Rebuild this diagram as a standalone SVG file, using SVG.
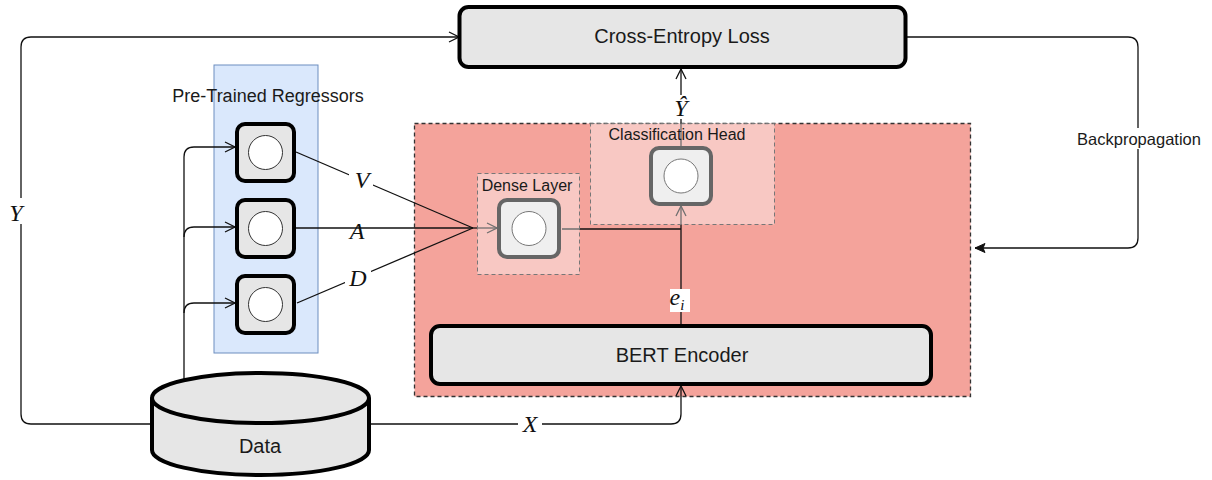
<svg xmlns="http://www.w3.org/2000/svg" width="1212" height="480" viewBox="0 0 1212 480">
<style>
.sans{font-family:"Liberation Sans",Arial,sans-serif;fill:#1a1a1a}
.math{font-family:"Liberation Serif","DejaVu Serif",serif;font-style:italic;fill:#111;font-size:24px}
.box{fill:#e6e6e6;stroke:#000;stroke-width:4}
.fbox{fill:#efefef;stroke:#666;stroke-width:4}
.ring{fill:#fff;stroke:#333;stroke-width:1}
.fring{fill:#fff;stroke:#777;stroke-width:1}
.edge{fill:none;stroke:#111;stroke-width:1.3}
.lbg{fill:#fff}
</style>
<defs>
<marker id="open" viewBox="0 0 12 12" refX="11" refY="6" markerWidth="12" markerHeight="12" markerUnits="userSpaceOnUse" orient="auto">
<path d="M1,1 L11,6 L1,11" fill="none" stroke="#111" stroke-width="1.3"/>
</marker>
<marker id="block" viewBox="0 0 12 12" refX="11" refY="6" markerWidth="12" markerHeight="12" markerUnits="userSpaceOnUse" orient="auto">
<path d="M1,1.5 L11,6 L1,10.5 L3,6 Z" fill="#111" stroke="#111" stroke-width="1"/>
</marker>
</defs>
<rect width="1212" height="480" fill="#fff"/>

<g id="regressors-group">
<rect x="214" y="65" width="104" height="288" fill="#dae8fc" stroke="#6c8ebf" stroke-width="1"/>
<text class="sans" x="268" y="102" font-size="18" text-anchor="middle">Pre-Trained Regressors</text>
</g>

<g id="model-group">
<rect x="414.5" y="123.5" width="556" height="273" fill="#f4a39b" stroke="#333" stroke-width="1.3" stroke-dasharray="4 3"/>
</g>

<g id="connectors">
<path class="edge" d="M152,424 H31 Q21,424 21,414 V47 Q21,37 31,37 H459" marker-end="url(#open)"/>
<path class="edge" d="M184,380 V157 Q184,147 194,147 H235" marker-end="url(#open)"/>
<path class="edge" d="M184,237 Q184,227 194,227 H235" marker-end="url(#open)"/>
<path class="edge" d="M184,313 Q184,303 194,303 H235" marker-end="url(#open)"/>
<path class="edge" d="M296,152 L473,228"/>
<path class="edge" d="M296,228 H473"/>
<path class="edge" d="M297,303 L473,228"/>
<path class="edge" d="M473,228 H497" marker-end="url(#open)"/>
<path class="edge" d="M562,229 H681"/>
<path class="edge" d="M681,325 V206" marker-end="url(#open)"/>
<path class="edge" d="M681,147 V69" marker-end="url(#open)"/>
<path class="edge" d="M369,424 H671 Q681,424 681,414 V386" marker-end="url(#open)"/>
<path class="edge" d="M906,37 H1128 Q1138,37 1138,47 V238 Q1138,248 1128,248 H975" marker-end="url(#block)"/>
<rect class="lbg" x="4" y="198" width="24" height="26"/>
<text class="math" x="16" y="221" text-anchor="middle">Y</text>
<rect class="lbg" x="349" y="167" width="24" height="22"/>
<text class="math" x="362" y="188" text-anchor="middle">V</text>
<text class="math" x="357" y="239" text-anchor="middle">A</text>
<rect class="lbg" x="345" y="265" width="26" height="22"/>
<text class="math" x="358" y="286" text-anchor="middle">D</text>
<rect class="lbg" x="518" y="413" width="24" height="22"/>
<text class="math" x="530" y="432" text-anchor="middle">X</text>
<rect class="lbg" x="670" y="95" width="22" height="24"/>
<text class="math" x="681" y="116" text-anchor="middle">Ŷ</text>
<rect class="lbg" x="670" y="289" width="20" height="23"/>
<text class="math" x="677" y="305" text-anchor="middle" font-size="23">e<tspan font-size="15" dy="5">i</tspan></text>
<rect class="lbg" x="1075" y="128" width="127" height="21"/>
<text class="sans" x="1139" y="145" font-size="16.5" text-anchor="middle">Backpropagation</text>
</g>

<g id="cross-entropy-loss">
<rect class="box" x="459.5" y="7" width="446" height="60" rx="9"/>
<text class="sans" x="682" y="43" font-size="20" text-anchor="middle">Cross-Entropy Loss</text>
</g>

<g id="regressor-v">
<rect class="box" x="237" y="124" width="57" height="57" rx="8"/>
<circle class="ring" cx="265.5" cy="152.5" r="17"/>
</g>
<g id="regressor-a">
<rect class="box" x="237" y="200" width="57" height="57" rx="8"/>
<circle class="ring" cx="265.5" cy="228.5" r="17"/>
</g>
<g id="regressor-d">
<rect class="box" x="237" y="276" width="57" height="57" rx="8"/>
<circle class="ring" cx="265.5" cy="304.5" r="17"/>
</g>

<g id="dense-layer">
<rect x="477.5" y="173.5" width="102" height="101" fill="#fff" fill-opacity="0.4" stroke="#777" stroke-width="1" stroke-dasharray="4 3"/>
<text class="sans" x="527" y="191" font-size="16" text-anchor="middle">Dense Layer</text>
<rect class="fbox" x="499" y="200" width="60" height="57" rx="8"/>
<circle class="fring" cx="529" cy="228.5" r="17"/>
</g>

<g id="classification-head">
<rect x="590.5" y="123.5" width="184" height="101" fill="#fff" fill-opacity="0.4" stroke="#777" stroke-width="1" stroke-dasharray="4 3"/>
<text class="sans" x="677" y="140" font-size="16" text-anchor="middle">Classification Head</text>
<rect class="fbox" x="651" y="148" width="60" height="56" rx="8"/>
<circle class="fring" cx="681" cy="176" r="17"/>
</g>

<g id="bert-encoder">
<rect class="box" x="431" y="326" width="500" height="58" rx="9"/>
<text class="sans" x="682" y="362" font-size="20" text-anchor="middle">BERT Encoder</text>
</g>

<g id="data">
<path d="M152,398 V450 A108.5,25 0 0 0 369,450 V398" fill="#e6e6e6" stroke="#000" stroke-width="4"/>
<ellipse cx="260.5" cy="398" rx="108.5" ry="25" fill="#e6e6e6" stroke="#000" stroke-width="4"/>
<text class="sans" x="260" y="453" font-size="20" text-anchor="middle">Data</text>
</g>
</svg>
